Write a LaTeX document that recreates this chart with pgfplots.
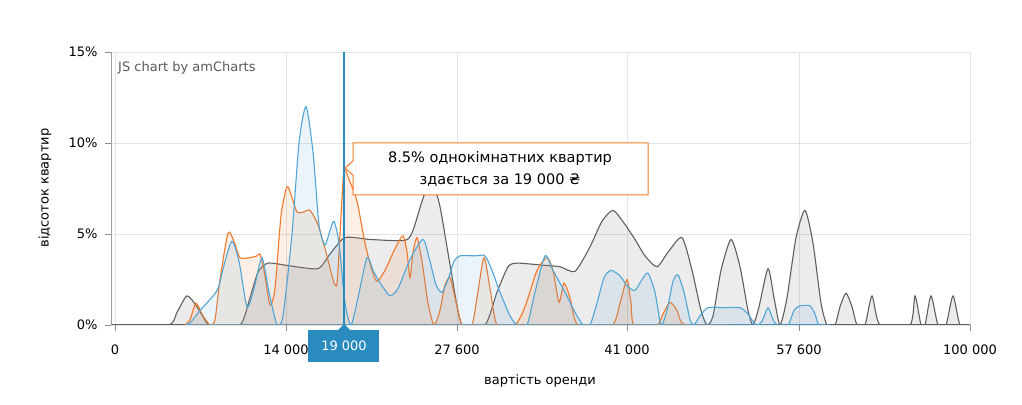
\documentclass[border=0pt]{standalone}
\usepackage{pgfplots}
\pgfplotsset{compat=1.18}
\usepackage{fontspec}
\setmainfont{DejaVu Sans}
\definecolor{cblue}{RGB}{80,165,215}
\definecolor{corange}{RGB}{242,120,42}
\definecolor{cgrey}{RGB}{95,95,95}
\definecolor{gridc}{RGB}{228,228,228}
\definecolor{curblue}{RGB}{42,139,191}
\begin{document}
\begin{tikzpicture}[x=1pt,y=1pt]
\useasboundingbox (0,0) rectangle (1022,404);
\begin{axis}[
  at={(111pt,79pt)}, anchor=south west,
  scale only axis, width=859pt, height=273pt,
  xmin=111, xmax=970, ymin=0, ymax=15,
  axis x line*=bottom, axis y line*=left,
  axis line style={cgrey!60, line width=0.8pt},
  x axis line style={-, cgrey, line width=1pt},
  y axis line style={-},
  xtick={115,286,457,627,799,970},
  xticklabels={0,14 000,27 600,41 000,57 600,100 000},
  ytick={0,5,10,15},
  yticklabels={0\%,5\%,10\%,15\%},
  tick align=outside, major tick length=6pt,
  tick style={cgrey!70, line width=0.8pt},
  grid=major, major grid style={gridc, line width=0.9pt},
  tick label style={font=\fontsize{13}{15}\selectfont, text=black},
  xticklabel style={anchor=center, yshift=-19pt},
  yticklabel style={anchor=east, xshift=-4pt},
  clip=true,
]
% grey series
\addplot[cgrey, line width=1.1pt, fill=cgrey, fill opacity=0.12, draw opacity=1, smooth, tension=0.4] coordinates {
(111,0)(168,0)(177,0.7)(187,1.6)(197,1.0)(207,0.1)(212,0)(240,0)(250,1.5)(258,2.9)(268,3.4)(290,3.25)(318,3.1)(330,3.9)(345,4.8)(370,4.7)(405,4.65)(413,5.2)(422,6.8)(431,8.0)(440,6.5)(451,3)(462,0)(485,0)(497,1.8)(508,3.2)(517,3.4)(540,3.3)(560,3.2)(575,2.95)(590,4.3)(602,5.7)(613,6.3)(624,5.6)(635,4.7)(645,3.8)(657,3.2)(668,4.0)(682,4.8)(692,3.0)(701,0.8)(707,0)(713,0.5)(721,3.0)(731,4.7)(740,3.2)(748,0.8)(753,0)(759,1.0)(768,3.1)(774,1.5)(780,0)(787,1.5)(796,4.8)(805,6.3)(813,4.5)(821,1.2)(827,0)(835,0)(840,1.0)(846,1.75)(852,1.0)(857,0)(865,0)(872,1.6)(880,0)(910,0)(915,1.6)(921,0)(925,0)(931,1.6)(938,0)(946,0)(953,1.6)(960,0)(970,0)
} \closedcycle;
% orange series
\addplot[corange, line width=1.1pt, fill=corange, fill opacity=0.12, draw opacity=1, smooth, tension=0.4] coordinates {
(185,0)(190,0.3)(196,1.2)(203,0.5)(210,0)(215,0.3)(220,2.5)(228,5.05)(234,4.6)(240,3.7)(250,3.7)(257,3.8)(260,3.9)(264,3.0)(270,1.1)(275,2.0)(281,6.0)(287,7.6)(292,7.0)(297,6.2)(303,6.2)(310,6.3)(318,5.5)(326,4.0)(333,2.5)(337,2.3)(341,6.0)(344,8.5)(349,8.0)(357,6.8)(365,4.5)(372,3.0)(377,2.4)(385,3.0)(395,4.2)(403,4.9)(407,4.0)(410,2.6)(413,4.0)(417,4.8)(422,3.5)(428,1.2)(434,0)(440,0.8)(445,2.2)(450,2.6)(455,1.5)(462,0)(472,0)(477,1.5)(484,3.7)(490,2.0)(497,0)(515,0)(525,1.0)(537,3.0)(547,3.7)(553,3.0)(559,1.25)(564,2.3)(570,1.5)(578,0)(612,0)(620,1.2)(627,2.5)(631,1.2)(634,0)(657,0)(663,0.6)(670,1.25)(677,0.8)(685,0)(730,0)
} \closedcycle;
% blue series
\addplot[cblue, line width=1.1pt, fill=cblue, fill opacity=0.12, draw opacity=1, smooth, tension=0.4] coordinates {
(185,0)(190,0.1)(200,0.8)(210,1.4)(218,2.0)(225,3.5)(232,4.6)(239,3.5)(247,1.0)(254,2.0)(262,3.7)(269,1.8)(277,0)(283,0.5)(292,5)(299,10.0)(306,12.0)(313,9.5)(319,5.5)(325,4.4)(330,5.2)(334,5.7)(339,4.5)(345,1.2)(351,0)(358,1.5)(367,3.7)(373,3.0)(378,2.5)(384,2.0)(390,1.6)(398,2.0)(410,3.6)(423,4.7)(430,3.5)(436,2.2)(442,1.8)(448,2.5)(454,3.5)(460,3.8)(475,3.8)(485,3.8)(492,3.0)(500,1.8)(510,0.5)(517,0)(527,0)(535,1.8)(545,3.8)(553,3.0)(565,1.8)(575,0.7)(583,0)(590,0)(597,1.2)(604,2.6)(611,3.0)(620,2.7)(628,2.1)(635,1.9)(642,2.5)(648,2.85)(655,1.8)(661,0)(667,0.8)(673,2.4)(678,2.75)(684,1.8)(690,0.3)(694,0)(700,0.5)(708,0.95)(725,0.95)(740,0.95)(748,0.6)(756,0)(762,0.2)(768,0.95)(773,0.3)(777,0)(788,0)(794,0.8)(800,1.05)(810,1.05)(815,0.6)(819,0)(830,0)
} \closedcycle;
\draw[curblue, line width=1.2pt] (axis cs:344,0) -- (axis cs:344,15);
\end{axis}
% watermark
\node[anchor=base west, inner sep=0, text=black!65, font=\fontsize{13}{15}\selectfont] at (118,332) {JS chart by amCharts};
% tooltip
\draw[corange, line width=1pt, fill=white] (353,261) -- (648,261) -- (648,209) -- (353,209) -- (353,229) -- (345,236) -- (353,243) -- cycle;
\node[font=\fontsize{14.5}{17}\selectfont, align=center] at (500,245) {8.5\% однокімнатних квартир};
\node[font=\fontsize{14.5}{17}\selectfont, align=center] at (500,224) {здається за 19 000 ₴};
% cursor label
\fill[curblue] (308,74) rectangle (379,42);
\fill[curblue] (338,74) -- (344,80) -- (350,74) -- cycle;
\node[text=white, font=\fontsize{13}{15}\selectfont] at (344,58) {19 000};
% axis titles
\node[rotate=90, font=\fontsize{13}{15}\selectfont] at (45,216) {відсоток квартир};
\node[font=\fontsize{13}{15}\selectfont] at (540,23) {вартість оренди};
\end{tikzpicture}
\end{document}
